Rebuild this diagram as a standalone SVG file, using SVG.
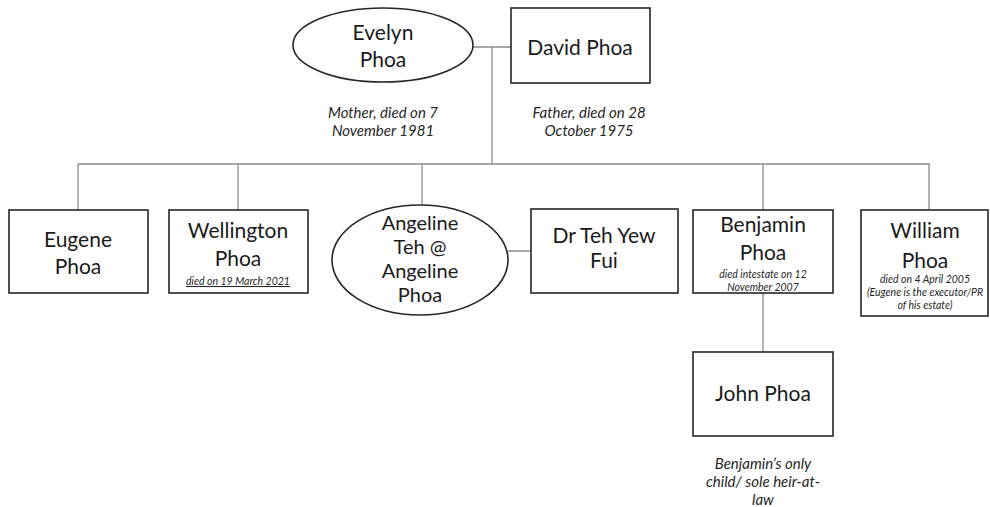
<svg xmlns="http://www.w3.org/2000/svg" width="990" height="507" viewBox="0 0 990 507">
<style>
.box{fill:#fff;stroke:#262626;stroke-width:1.6}
.ln{fill:none;stroke:#8a8a8a;stroke-width:1.3}
.nm{font-family:Lato,"Open Sans",sans-serif;font-size:21px;fill:#1a1a1a;text-anchor:middle}
.an{font-family:Lato,"Open Sans",sans-serif;font-size:15px;font-style:italic;fill:#262626;text-anchor:middle}
.sm{font-family:Lato,"Open Sans",sans-serif;font-size:10.5px;font-style:italic;fill:#262626;text-anchor:middle}
</style>
<rect width="990" height="507" fill="#fff"/>
<g id="connectors">
<path class="ln" d="M473,47 H511 M492,47 V164 M78,164 H930 M78,164 V210 M238,164 V210 M422,164 V205 M763,164 V210 M929,164 V210 M508,251 H531 M763,293 V352"/>
</g>
<g id="evelyn">
<ellipse class="box" cx="383" cy="45" rx="90" ry="37"/>
<text class="nm" x="383" y="40">Evelyn</text>
<text class="nm" x="383" y="67">Phoa</text>
<text class="an" x="383" y="118">Mother, died on 7</text>
<text class="an" x="383" y="136">November 1981</text>
</g>
<g id="david">
<rect class="box" x="511" y="8" width="139" height="75"/>
<text class="nm" x="580" y="55">David Phoa</text>
<text class="an" x="589" y="118">Father, died on 28</text>
<text class="an" x="589" y="136">October 1975</text>
</g>
<g id="eugene">
<rect class="box" x="9" y="210" width="139" height="83"/>
<text class="nm" x="78" y="247">Eugene</text>
<text class="nm" x="78" y="274">Phoa</text>
</g>
<g id="wellington">
<rect class="box" x="169" y="210" width="139" height="83"/>
<text class="nm" x="238" y="238">Wellington</text>
<text class="nm" x="238" y="266">Phoa</text>
<text class="sm" x="238" y="285" text-decoration="underline">died on 19 March 2021</text>
</g>
<g id="angeline">
<ellipse class="box" cx="420" cy="260" rx="88" ry="55"/>
<text class="nm" x="420" y="230" style="font-size:20px">Angeline</text>
<text class="nm" x="420" y="254" style="font-size:20px">Teh @</text>
<text class="nm" x="420" y="278" style="font-size:20px">Angeline</text>
<text class="nm" x="420" y="302" style="font-size:20px">Phoa</text>
</g>
<g id="drteh">
<rect class="box" x="531" y="209" width="147" height="84"/>
<text class="nm" x="604" y="243">Dr Teh Yew</text>
<text class="nm" x="604" y="268">Fui</text>
</g>
<g id="benjamin">
<rect class="box" x="693" y="210" width="140" height="83"/>
<text class="nm" x="763" y="232">Benjamin</text>
<text class="nm" x="763" y="260">Phoa</text>
<text class="sm" x="763" y="278">died intestate on 12</text>
<text class="sm" x="763" y="291">November 2007</text>
</g>
<g id="william">
<rect class="box" x="861" y="210" width="127" height="106"/>
<text class="nm" x="925" y="238">William</text>
<text class="nm" x="925" y="268">Phoa</text>
<text class="sm" x="925" y="283">died on 4 April 2005</text>
<text class="sm" x="925" y="296">(Eugene is the executor/PR</text>
<text class="sm" x="925" y="309">of his estate)</text>
</g>
<g id="john">
<rect class="box" x="693" y="352" width="140" height="84"/>
<text class="nm" x="763" y="401">John Phoa</text>
<text class="an" x="763" y="469">Benjamin’s only</text>
<text class="an" x="763" y="487">child/ sole heir-at-</text>
<text class="an" x="763" y="505">law</text>
</g>
</svg>
